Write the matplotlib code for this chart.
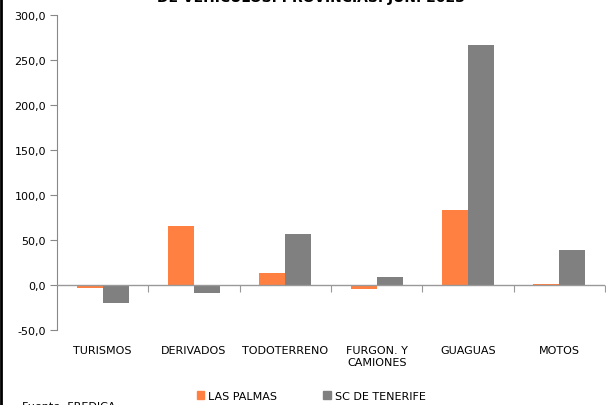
import matplotlib
matplotlib.use("Agg")
import matplotlib.pyplot as plt
from matplotlib.lines import Line2D
from matplotlib.patches import Patch
import numpy as np

# variacion interanual (%) por tipo de vehiculo
categorias = ["TURISMOS", "DERIVADOS", "TODOTERRENO", "FURGON. Y\nCAMIONES", "GUAGUAS", "MOTOS"]
las_palmas = [-3.7, 65.2, 13.3, -4.8, 83.3, 0.8]
tenerife = [-20.5, -8.5, 56.3, 9.3, 266.7, 38.5]
series = ["LAS PALMAS", "SC DE TENERIFE"]
colores = ["#FF8040", "#808080"]
yticks = [-50, 0, 50, 100, 150, 200, 250, 300]

plt.rcParams['font.family'] = ['DejaVu Sans']
fig = plt.figure(figsize=(6.06, 4.06), dpi=100)
ax = fig.add_axes([57/606, 1-331/406, 548/606, 315/406])

x = np.arange(len(categorias))
w = 1/3.5
ax.bar(x - w/2, las_palmas, w, color=colores[0], zorder=3)
ax.bar(x + w/2, tenerife, w, color=colores[1], zorder=3)

ax.set_xlim(-0.5, len(categorias) - 0.5)
ax.set_ylim(-50, 300)
ax.set_yticks(yticks)
ax.set_yticklabels([f"{v:.1f}".replace(".", ",") for v in yticks], fontsize=8)
ax.tick_params(axis='y', direction='out', length=5, color='#888888', pad=3)

for s in ['top', 'right', 'bottom']:
    ax.spines[s].set_visible(False)
ax.spines['left'].set_color('#888888')

ax.set_xticks(x)
ax.set_xticklabels(categorias, fontsize=8, va='top', linespacing=1.2)
ax.tick_params(axis='x', length=0, pad=11)

# eje en cero con marcas entre categorias
ax.axhline(0, color='#999999', lw=1, zorder=4)
sec = ax.secondary_xaxis(50/350)
sec.spines['bottom'].set_visible(False)
sec.set_xticks(np.arange(0.5, len(categorias), 1))
sec.set_xticklabels([])
sec.tick_params(direction='out', length=5, color='#999999')

handles = [Patch(color=c) for c in colores]
fig.legend(handles, series, loc='center', bbox_to_anchor=(311/606, 1-397/406),
           ncol=2, frameon=False, fontsize=8, handlelength=0.7, handleheight=0.7,
           handletextpad=0.3, columnspacing=4.2)

fig.text(311/606, 1-2/406, "DE VEHÍCULOS. PROVINCIAS. JUN. 2023", ha='center',
         va='baseline', fontsize=10, fontweight='bold')
fig.text(22/606, 1-410/406, "Fuente: FREDICA", fontsize=8, va='baseline')

fig.add_artist(Line2D([1/606, 1/606], [0, 1], color='black', lw=2))

fig.savefig("out.png", dpi=100)
